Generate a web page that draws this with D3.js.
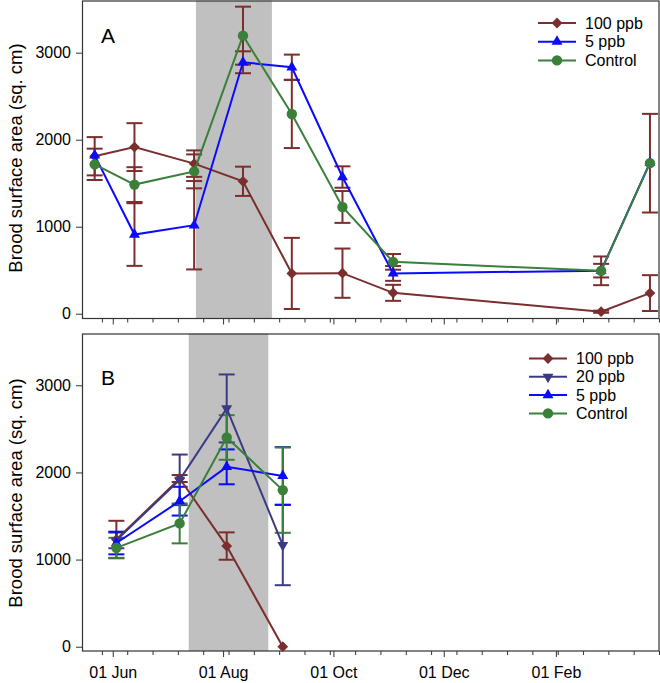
<!DOCTYPE html>
<html><head><meta charset="utf-8">
<script src="https://cdn.jsdelivr.net/npm/d3@7"></script>
<style>
html,body{margin:0;padding:0;background:#fff;}
text{font-family:"Liberation Sans",Arial,sans-serif;fill:#000;}
</style></head>
<body><svg id="c" width="660" height="683"></svg>
<script>
// ---------- DATA ----------
const seriesNamesA = ["100 ppb", "5 ppb", "Control"];
const datesA = ["2013-05-22","2013-06-13","2013-07-16","2013-08-12","2013-09-08","2013-10-06","2013-11-03","2014-02-26","2014-03-25"];
const a100 = [1810, 1915, 1725, 1522, 463, 466, 240, 23, 237];
const a100Err = [220, 275, 152, 168, 409, 283, 92, 12, 206];
const a5 = [1820, 910, 1017, 2890, 2833, 1571, 463, 495, 1736];
const a5Err = [0, 360, 508, 126, 145, 123, 85, 78, 0];
const aCtl = [1717, 1484, 1636, 3196, 2296, 1227, 596, 493, 1730];
const aCtlErr = [180, 200, 195, 333, 392, 183, 90, 165, 567];
const shadeA = ["2013-07-17", "2013-08-28"];

const seriesNamesB = ["100 ppb", "20 ppb", "5 ppb", "Control"];
const datesB = ["2013-06-03","2013-07-08","2013-08-03","2013-09-03"];
const b100 = [1230, 1930, 1155, 0];
const b100Err = [215, 40, 157, 0];
const b20 = [1220, 1915, 2734, 1166];
const b20Err = [90, 290, 390, 460];
const b5 = [1190, 1670, 2064, 1960];
const b5Err = [130, 165, 200, 330];
const bCtl = [1135, 1415, 2401, 1797];
const bCtlErr = [115, 229, 256, 490];
const shadeB = ["2013-07-13", "2013-08-26"];

const xDomainDates = ["2013-05-15", "2014-03-30"];
const majorTickDates = ["2013-06-01","2013-08-01","2013-10-01","2013-12-01","2014-02-01"];
const minorTickStart = "2013-05-26";
const yTicks = [0, 1000, 2000, 3000];
const yLabel = "Brood surface area (sq. cm)";

// ---------- SETUP ----------
const parse = d3.utcParse("%Y-%m-%d");
const svg = d3.select("#c");
const col = {brown:"#7b2e2e", navy:"#3b3b85", blue:"#0a0aff", green:"#3a7f3a"};
const left = 82, right = 659;
const x = d3.scaleUtc().domain(xDomainDates.map(parse)).range([left, right]);
const minorTicks = d3.utcDay.every(1).range(parse(minorTickStart), d3.utcDay.offset(x.domain()[1], 1)).filter((d,i)=>i%14===0);

const symbols = {
  diamond: g => g.append("path").attr("d", d3.symbol(d3.symbolSquare, 58)()).attr("transform", "rotate(45)"),
  up: g => g.append("path").attr("d", d3.symbol(d3.symbolTriangle, 52)()),
  down: g => g.append("path").attr("d", d3.symbol(d3.symbolTriangle, 52)()).attr("transform", "rotate(180)"),
  circle: g => g.append("circle").attr("r", 5.2)
};

function panel(cfg) {
  const y = d3.scaleLinear().domain(cfg.yDomain).range([cfg.bottom, cfg.top]);
  const g = svg.append("g");
  const sh = cfg.shade.map(parse);
  g.append("rect").attr("x", x(sh[0])).attr("y", cfg.top).attr("width", x(sh[1]) - x(sh[0]))
    .attr("height", cfg.bottom - cfg.top).attr("fill", "#c0c0c0");

  // axes
  const ya = g.append("g").attr("transform", `translate(${left},0)`)
    .call(d3.axisLeft(y).tickValues(yTicks).tickSize(6).tickPadding(5).tickFormat(d3.format("d")));
  ya.select(".domain").remove();
  ya.selectAll("text").attr("font-size", 16).style("font-family", '"Liberation Sans",Arial,sans-serif');
  ya.selectAll("line").attr("stroke", "#333");

  const xm = g.append("g").attr("transform", `translate(0,${cfg.bottom})`)
    .call(d3.axisBottom(x).tickValues(minorTicks).tickSize(4).tickFormat(""));
  xm.select(".domain").remove();
  xm.selectAll("line").attr("stroke", "#333");
  const xa = g.append("g").attr("transform", `translate(0,${cfg.bottom})`)
    .call(d3.axisBottom(x).tickValues(majorTickDates.map(parse)).tickSize(6).tickPadding(10)
      .tickFormat(cfg.labels ? d3.utcFormat("%d %b") : ""));
  xa.select(".domain").remove();
  xa.selectAll("line").attr("stroke", "#333");
  xa.selectAll("text").attr("font-size", 16).style("font-family", '"Liberation Sans",Arial,sans-serif');

  g.append("rect").attr("x", left + 0.5).attr("y", cfg.top + 0.5).attr("width", right - left - 0.5)
    .attr("height", cfg.bottom - cfg.top - 0.5).attr("fill", "none").attr("stroke", "#333").attr("stroke-width", 1.2);

  g.append("text").attr("transform", `translate(15,${cfg.labelY}) rotate(-90)`)
    .attr("text-anchor", "middle").attr("dominant-baseline", "central").attr("font-size", 18.5).text(yLabel);
  g.append("text").attr("x", 101).attr("y", cfg.letterY).attr("font-size", 21).text(cfg.letter);

  const dates = cfg.dates.map(parse);
  const line = d3.line().x((d,i)=>x(dates[i])).y(d=>y(d));
  cfg.series.forEach(s => {
    const eg = g.append("g").attr("stroke", s.errColor).attr("stroke-width", 2).attr("fill", "none");
    s.values.forEach((v,i) => {
      const e = s.err[i]; if (!e) return;
      const cx = x(dates[i]);
      eg.append("line").attr("x1", cx).attr("x2", cx).attr("y1", y(v - e)).attr("y2", y(v + e));
      [v - e, v + e].forEach(w => eg.append("line").attr("x1", cx - 8).attr("x2", cx + 8).attr("y1", y(w)).attr("y2", y(w)));
    });
  });
  cfg.series.forEach(s => {
    g.append("path").attr("d", line(s.values)).attr("fill", "none").attr("stroke", s.color).attr("stroke-width", 2);
    s.values.forEach((v,i) => {
      const m = g.append("g").attr("transform", `translate(${x(dates[i])},${y(v)})`).attr("fill", s.color);
      symbols[s.sym](m);
    });
  });

  // legend
  cfg.series.forEach((s, i) => {
    const ly = cfg.legY + i * cfg.legStep;
    g.append("line").attr("x1", cfg.legX).attr("x2", cfg.legX + 38).attr("y1", ly).attr("y2", ly)
      .attr("stroke", s.color).attr("stroke-width", 2);
    const m = g.append("g").attr("transform", `translate(${cfg.legX + 19},${ly})`).attr("fill", s.color);
    symbols[s.sym](m);
    g.append("text").attr("x", cfg.legX + 47).attr("y", ly).attr("dominant-baseline", "central")
      .attr("font-size", 16).text(s.name);
  });
}

panel({
  top: 0.5, bottom: 318.5, yDomain: [-55, 3600], shade: shadeA, labels: false,
  labelY: 158, letter: "A", letterY: 43, dates: datesA,
  legX: 538, legY: 23, legStep: 18.7,
  series: [
    {name: seriesNamesA[0], values: a100, err: a100Err, color: col.brown, errColor: col.brown, sym: "diamond"},
    {name: seriesNamesA[1], values: a5, err: a5Err, color: col.blue, errColor: col.brown, sym: "up"},
    {name: seriesNamesA[2], values: aCtl, err: aCtlErr, color: col.green, errColor: col.brown, sym: "circle"}
  ]
});
panel({
  top: 333.5, bottom: 651, yDomain: [-49, 3594], shade: shadeB, labels: true,
  labelY: 493, letter: "B", letterY: 385, dates: datesB,
  legX: 529, legY: 358.5, legStep: 18.3,
  series: [
    {name: seriesNamesB[0], values: b100, err: b100Err, color: col.brown, errColor: col.brown, sym: "diamond"},
    {name: seriesNamesB[1], values: b20, err: b20Err, color: col.navy, errColor: col.navy, sym: "down"},
    {name: seriesNamesB[2], values: b5, err: b5Err, color: col.blue, errColor: col.blue, sym: "up"},
    {name: seriesNamesB[3], values: bCtl, err: bCtlErr, color: col.green, errColor: col.green, sym: "circle"}
  ]
});
</script></body></html>
